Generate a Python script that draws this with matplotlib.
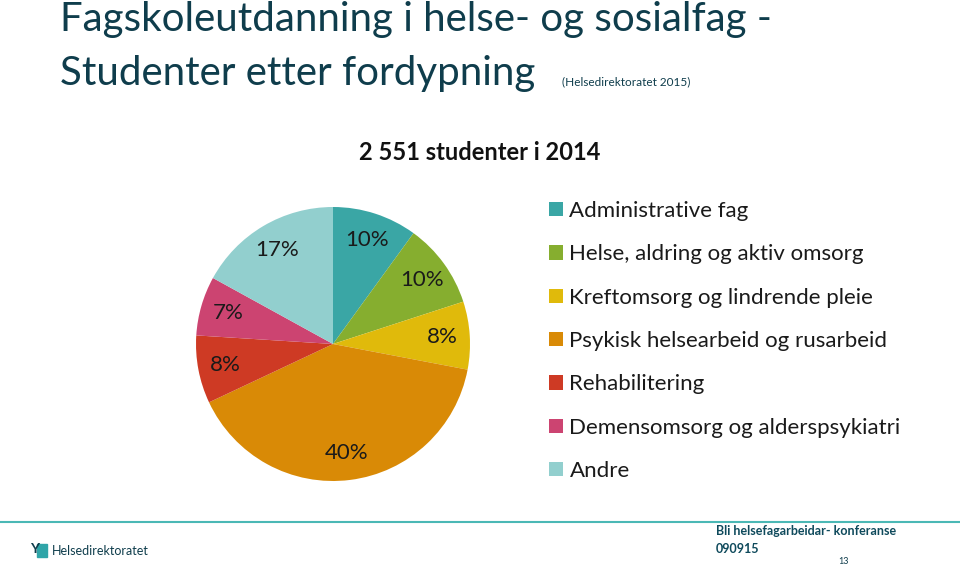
import matplotlib.pyplot as plt
from matplotlib.patches import Rectangle

# Data
kategorier = ['Administrative fag', 'Helse, aldring og aktiv omsorg',
              'Kreftomsorg og lindrende pleie', 'Psykisk helsearbeid og rusarbeid',
              'Rehabilitering', 'Demensomsorg og alderspsykiatri', 'Andre']
andeler = [10, 10, 8, 40, 8, 7, 17]
farger = ['#3aa6a5', '#86ae2f', '#e0ba0b', '#d98a06', '#ce3a24', '#cc4471', '#92cfce']

tittel1 = 'Fagskoleutdanning i helse- og sosialfag -'
tittel2 = 'Studenter etter fordypning'
kilde = '(Helsedirektoratet 2015)'
undertittel = '2 551 studenter i 2014'

plt.rcParams['font.family'] = ['Lato', 'DejaVu Sans']

W, H = 960, 564
fig = plt.figure(figsize=(W / 100, H / 100), dpi=100)

def fx(x):
    return x / W

def fy(y):
    return 1 - y / H

# Titles
fig.text(fx(60), fy(20), tittel1, fontsize=29, color='#0f3d4c', va='center', ha='left')
fig.text(fx(60), fy(74), tittel2, fontsize=29, color='#0f3d4c', va='center', ha='left')
fig.text(fx(562), fy(82), kilde, fontsize=8.5, color='#0f3d4c', va='center', ha='left')
fig.text(fx(480), fy(153), undertittel, fontsize=17, fontweight='bold', color='#111111',
         va='center', ha='center')

# Pie
cx, cy, r = 333, 344, 137
ax = fig.add_axes([fx(cx - r), fy(cy + r), 2 * r / W, 2 * r / H])
wedges, _, autotexts = ax.pie(andeler, colors=farger, startangle=90, counterclock=False,
                              autopct='%d%%', pctdistance=0.8,
                              wedgeprops=dict(linewidth=0),
                              textprops=dict(fontsize=16, color='#1a1a1a'))
ax.set_xlim(-1, 1)
ax.set_ylim(-1, 1)
ax.set_aspect('equal')

# Legend
fig.legend(wedges, kategorier, loc='upper left', bbox_to_anchor=(fx(549), fy(201)),
           frameon=False, fontsize=16, labelspacing=1.05, handlelength=0.62,
           handleheight=0.62, handletextpad=0.3, borderpad=0, borderaxespad=0,
           labelcolor='#1a1a1a')

# Footer
fig.add_artist(plt.Line2D([0, 1], [fy(522), fy(522)], color='#4bb8b5', linewidth=1.5))
fig.add_artist(Rectangle((fx(37), fy(557)), fx(10), 13 / H, color='#2fa5a8'))
fig.text(fx(30), fy(549), 'Y', fontsize=10, fontweight='bold', color='#0f3d4c',
         va='center', ha='left')
fig.text(fx(52), fy(551), 'Helsedirektoratet', fontsize=9, color='#0f3d4c',
         va='center', ha='left')
fig.text(fx(716), fy(531), 'Bli helsefagarbeidar- konferanse', fontsize=9,
         fontweight='bold', color='#0f4a5c', va='center', ha='left')
fig.text(fx(716), fy(549), '090915', fontsize=9, fontweight='bold', color='#0f4a5c',
         va='center', ha='left')
fig.text(fx(838), fy(561), '13', fontsize=6.5, color='#0f3d4c', va='center', ha='left')

fig.savefig('out.png', dpi=100)
